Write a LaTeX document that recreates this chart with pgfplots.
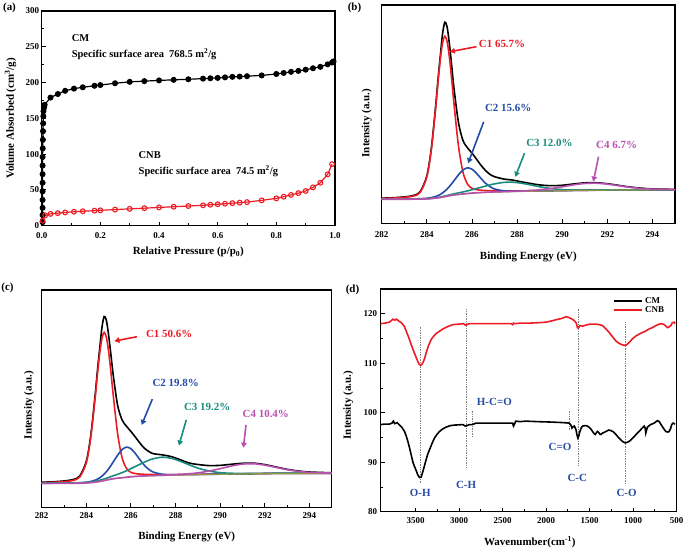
\documentclass[border=0pt]{standalone}
\usepackage{fontspec}
\setmainfont{Liberation Serif}
\usepackage{pgfplots}
\usepackage{pgfplotstable}
\pgfplotsset{compat=1.18}
\usetikzlibrary{arrows.meta}
\definecolor{cred}{RGB}{237,28,36}
\definecolor{cblue}{RGB}{35,75,170}
\definecolor{cteal}{RGB}{25,140,125}
\definecolor{cmag}{RGB}{185,80,175}
\definecolor{colive}{RGB}{150,150,70}
\definecolor{lblue}{RGB}{40,75,165}

\pgfplotstableread{
x bg red blue teal mag black
282.0 11.00 11.37 11.06 11.05 11.02 11.50
282.5 11.00 11.55 11.08 11.06 11.02 11.71
283.0 11.00 11.88 11.11 11.07 11.02 12.08
283.4 11.02 12.47 11.19 11.10 11.04 12.74
283.7 11.05 14.09 11.26 11.14 11.07 14.41
284.0 11.15 21.25 11.47 11.27 11.18 21.72
284.2 11.30 33.70 11.78 11.45 11.33 34.36
284.4 11.50 53.70 12.30 11.68 11.53 54.71
284.5 11.65 65.05 12.74 11.85 11.68 66.37
284.6 11.80 75.30 13.23 12.03 11.83 76.99
284.7 12.00 82.80 13.92 12.26 12.03 87.00
284.8 12.20 85.70 14.74 12.50 12.23 92.10
284.9 12.40 83.20 15.70 12.74 12.43 89.90
285.0 12.60 76.10 16.84 13.00 12.63 82.30
285.1 12.80 66.20 18.10 13.26 12.83 72.50
285.2 12.95 55.15 19.46 13.48 12.99 62.20
285.4 13.20 35.60 22.17 13.93 13.24 46.30
285.6 13.40 23.50 24.40 14.35 13.44 38.00
285.8 13.60 18.00 25.40 14.84 13.64 34.60
286.0 13.80 16.04 24.80 15.38 13.84 32.20
286.2 13.95 15.40 22.92 15.93 14.00 29.40
286.4 14.05 15.15 20.56 16.48 14.10 26.60
286.6 14.15 15.02 18.39 17.04 14.21 24.20
286.8 14.25 14.96 16.79 17.59 14.31 22.40
287.0 14.30 14.89 15.73 18.06 14.37 21.35
287.4 14.40 14.83 14.88 18.72 14.49 20.30
287.8 14.50 14.82 14.74 18.82 14.63 19.80
288.2 14.60 14.85 14.77 18.36 14.80 18.98
288.6 14.70 14.90 14.81 17.59 15.04 18.24
289.0 14.75 14.92 14.84 16.73 15.34 17.58
289.5 14.85 14.98 14.92 15.94 15.94 17.23
290.0 14.90 15.01 14.96 15.43 16.72 17.42
290.5 15.00 15.10 15.05 15.26 17.60 18.01
291.0 15.05 15.14 15.10 15.20 18.24 18.53
291.5 15.12 15.20 15.16 15.21 18.37 18.58
292.0 15.20 15.27 15.24 15.28 17.95 18.14
292.5 15.25 15.32 15.28 15.31 17.22 17.38
293.0 15.28 15.34 15.31 15.33 16.49 16.63
293.5 15.29 15.35 15.32 15.34 15.96 16.10
294.0 15.30 15.35 15.33 15.34 15.64 15.76
295.0 15.30 15.35 15.32 15.33 15.41 15.51
}\xpsb

\pgfplotstableread{
x bg red blue teal mag black
282.0 11.00 11.34 11.07 11.10 11.03 11.54
282.5 11.00 11.51 11.09 11.11 11.03 11.74
283.0 11.00 11.82 11.13 11.14 11.03 12.12
283.4 11.02 12.37 11.22 11.19 11.05 12.77
283.7 11.05 13.87 11.30 11.26 11.08 14.36
284.0 11.16 20.53 11.54 11.44 11.20 21.23
284.2 11.32 32.11 11.89 11.66 11.36 33.06
284.4 11.54 50.70 12.48 11.98 11.58 52.12
284.5 11.70 61.26 12.98 12.20 11.74 63.08
284.6 11.86 70.79 13.54 12.43 11.90 73.08
284.7 12.07 77.77 14.33 12.73 12.11 82.70
284.8 12.28 80.48 15.27 13.04 12.32 87.80
284.9 12.50 78.20 16.39 13.38 12.54 86.00
285.0 12.71 71.64 17.70 13.73 12.75 79.20
285.1 12.93 62.49 19.17 14.12 12.98 70.50
285.2 13.09 52.25 20.76 14.48 13.14 61.40
285.4 13.36 34.15 23.93 15.17 13.41 47.10
285.6 13.57 22.94 26.53 15.93 13.62 40.30
285.8 13.79 17.87 27.69 16.81 13.84 37.30
286.0 14.00 16.08 26.96 17.79 14.06 34.90
286.2 14.16 15.51 24.73 18.80 14.23 32.30
286.4 14.27 15.29 21.94 19.79 14.34 29.60
286.6 14.37 15.18 19.36 20.75 14.46 27.20
286.8 14.48 15.14 17.47 21.65 14.57 25.70
287.0 14.53 15.08 16.21 22.36 14.63 24.69
287.4 14.64 15.04 15.21 23.04 14.77 24.14
287.8 14.75 15.05 15.03 22.58 14.94 23.35
288.2 14.85 15.08 15.05 21.23 15.13 21.94
288.6 14.96 15.15 15.09 19.60 15.44 20.40
289.0 15.01 15.17 15.12 18.03 15.85 19.70
289.5 15.12 15.24 15.20 16.72 16.67 19.20
290.0 15.17 15.27 15.24 15.93 17.76 19.30
290.5 15.28 15.37 15.34 15.67 18.98 19.80
291.0 15.33 15.41 15.39 15.56 19.87 20.24
291.5 15.41 15.48 15.46 15.57 20.04 20.32
292.0 15.49 15.55 15.54 15.62 19.41 19.65
292.5 15.55 15.61 15.59 15.66 18.36 18.57
293.0 15.58 15.64 15.62 15.67 17.30 17.49
293.5 15.59 15.64 15.63 15.67 16.54 16.71
294.0 15.60 15.65 15.64 15.67 16.08 16.24
295.0 15.60 15.65 15.62 15.65 15.76 15.88
}\xpsc

\tikzset{
  arr/.style={line width=1.6pt, -{Triangle[length=5bp,width=5.5bp]}},
  ann/.style={font=\bfseries\fontsize{11}{12}\selectfont, anchor=west, inner sep=0pt},
  annS/.style={font=\bfseries\fontsize{10.5}{12}\selectfont, anchor=west, inner sep=0pt},
  ftl/.style={text=lblue, font=\bfseries\fontsize{11}{12}\selectfont},
  dl/.style={gray, densely dotted, line width=0.7pt},
}
\pgfplotsset{
  panel/.style={scale only axis, anchor=south west,
    axis line style={line width=1.1pt},
    tick style={black, line width=0.9pt},
    major tick length=4bp, minor tick length=2.5bp,
    tick label style={font=\bfseries\fontsize{9}{10}\selectfont},
    label style={font=\bfseries\fontsize{11}{12}\selectfont},
    /pgf/number format/assume math mode=true,
    /pgf/number format/1000 sep={},
    tick pos=left, tick align=inside},
  xps/.style={panel, xmin=282, xmax=295, ymin=0, ymax=100,
    xtick={282,284,...,294}, minor x tick num=1, ytick=\empty,
    xlabel={Binding Energy (eV)}, ylabel={Intensity (a.u.)}},
  xl/.style={line width=1.6pt, smooth},
}

\begin{document}
\begin{tikzpicture}
\path[use as bounding box] (0,0) rectangle (685bp,550bp);

% ---------------- (a)
\begin{axis}[panel, at={(41.7bp,324.3bp)}, width=293.3bp, height=214.7bp,
  xmin=0, xmax=1, ymin=0, ymax=300,
  xtick={0,0.2,...,1.0}, minor x tick num=1,
  ytick={0,50,...,300}, minor y tick num=1,
  xticklabel style={yshift=-3bp, /pgf/number format/fixed, /pgf/number format/fixed zerofill, /pgf/number format/precision=1},
  yticklabel style={xshift=1bp},
  xlabel={Relative Pressure (p/p\textsubscript{0})},
  ylabel={Volume Absorbed (cm\textsuperscript{3}/g)},
  xlabel style={at={(axis description cs:0.5,-0.122)}, anchor=center},
  ylabel style={at={(axis description cs:-0.106,0.5)}, anchor=center},
  clip=false]
\addplot[black, line width=1.2pt, mark=*, mark size=2.4pt] coordinates {
(0.003,5) (0.003,15) (0.003,25) (0.003,36) (0.003,48) (0.003,60) (0.003,72)
(0.003,84) (0.003,96) (0.0035,108) (0.004,120) (0.0045,132) (0.005,143) (0.0055,153)
(0.006,160) (0.008,165) (0.01,169) (0.03,179) (0.055,184) (0.08,188.5) (0.11,191.5)
(0.14,193.4) (0.18,195.5) (0.2,196.5) (0.25,199) (0.3,201) (0.35,202) (0.4,203)
(0.45,203.8) (0.5,204.6) (0.55,205.5) (0.575,206) (0.6,206.5) (0.625,207.3) (0.65,208)
(0.675,208.4) (0.7,208.9) (0.75,210) (0.8,212) (0.825,213.4) (0.85,215) (0.875,216.3)
(0.9,218) (0.925,220) (0.95,222) (0.975,225.5) (0.99,228) (0.995,229.5)};
\addplot[cred, line width=1.2pt, mark=o, mark size=2.4pt, mark options={line width=1.1pt, fill=white}] coordinates {
(0.003,7) (0.012,14.5) (0.03,16.5) (0.055,17.5) (0.08,18.5) (0.11,19.5) (0.14,20.2)
(0.18,21) (0.2,21.5) (0.25,22.5) (0.3,23.5) (0.35,24.5) (0.4,25.5) (0.45,26.5)
(0.5,27.5) (0.55,28.5) (0.575,29.3) (0.6,30) (0.625,30.7) (0.65,31.5) (0.675,32.2)
(0.7,33) (0.75,35.4) (0.8,38.2) (0.825,40.5) (0.85,43) (0.875,45.5) (0.9,48.5)
(0.925,53.6) (0.95,60) (0.975,71.8) (0.99,86)};
\node[annS] at (axis cs:0.102,262) {CM};
\node[annS] at (axis cs:0.102,239.5) {Specific surface area\ \ 768.5 m\textsuperscript{2}/g};
\node[annS] at (axis cs:0.33,98.8) {CNB};
\node[annS] at (axis cs:0.33,75.5) {Specific surface area\ \ 74.5 m\textsuperscript{2}/g};
\end{axis}

% ---------------- (b)
\begin{axis}[xps, at={(381.7bp,326.7bp)}, width=293.3bp, height=218.3bp,
  xticklabel style={yshift=-5bp},
  xlabel style={at={(axis description cs:0.5,-0.154)}, anchor=center},
  ylabel style={at={(axis description cs:-0.051,0.459)}, anchor=center}]
\addplot[xl, black] table[x=x, y=black] {\xpsb};
\addplot[xl, cred] table[x=x, y=red] {\xpsb};
\addplot[xl, cblue] table[x=x, y=blue] {\xpsb};
\addplot[xl, cteal] table[x=x, y=teal] {\xpsb};
\addplot[line width=1.2pt, colive, smooth] table[x=x, y=bg] {\xpsb};
\addplot[xl, cmag] table[x=x, y=mag] {\xpsb};
\draw[arr, cred] (axis cs:286.2,80.9) -- (axis cs:285.02,78.6);
\node[ann, text=cred] at (axis cs:286.3,82.1) {C1 65.7\%};
\draw[arr, cblue] (axis cs:286.52,46.5) -- (axis cs:285.83,27.5);
\node[ann, text=cblue] at (axis cs:286.57,52.7) {C2 15.6\%};
\draw[arr, cteal] (axis cs:288.33,32.1) -- (axis cs:287.92,21.3);
\node[ann, text=cteal] at (axis cs:288.4,36.9) {C3 12.0\%};
\draw[arr, cmag] (axis cs:291.61,30.5) -- (axis cs:291.38,19.1);
\node[ann, text=cmag] at (axis cs:291.5,35.9) {C4 6.7\%};
\end{axis}

% ---------------- (c)
\begin{axis}[xps, at={(41.7bp,42.7bp)}, width=290bp, height=217.3bp,
  xticklabel style={yshift=-2bp},
  xlabel style={at={(axis description cs:0.5,-0.137)}, anchor=center},
  ylabel style={at={(axis description cs:-0.044,0.471)}, anchor=center}]
\addplot[xl, black] table[x=x, y=black] {\xpsc};
\addplot[xl, cred] table[x=x, y=red] {\xpsc};
\addplot[xl, cblue] table[x=x, y=blue] {\xpsc};
\addplot[xl, cteal] table[x=x, y=teal] {\xpsc};
\addplot[line width=1.2pt, colive, smooth] table[x=x, y=bg] {\xpsc};
\addplot[xl, cmag] table[x=x, y=mag] {\xpsc};
\draw[arr, cred] (axis cs:286.27,78.5) -- (axis cs:285.26,76.5);
\node[ann, text=cred] at (axis cs:286.67,79.6) {C1 50.6\%};
\draw[arr, cblue] (axis cs:286.96,49.8) -- (axis cs:286.48,37.9);
\node[ann, text=cblue] at (axis cs:286.96,57.1) {C2 19.8\%};
\draw[arr, cteal] (axis cs:288.48,40.2) -- (axis cs:288.15,28.4);
\node[ann, text=cteal] at (axis cs:288.37,46.3) {C3 19.2\%};
\draw[arr, cmag] (axis cs:291.16,37.9) -- (axis cs:291.04,27.4);
\node[ann, text=cmag] at (axis cs:291.0,42.8) {C4 10.4\%};
\end{axis}

% ---------------- (d)
\begin{axis}[panel, at={(380.7bp,38.3bp)}, width=296bp, height=222.7bp,
  x dir=reverse, xmin=500, xmax=3900, ymin=80, ymax=125,
  xtick={500,1000,...,3500}, minor x tick num=1,
  ytick={80,90,...,120}, minor y tick num=1,
  xticklabel style={yshift=-2bp},
  xlabel={Wavenumber(cm\textsuperscript{-1})}, ylabel={Intensity (a.u.)},
  xlabel style={at={(axis description cs:0.504,-0.135)}, anchor=center},
  ylabel style={at={(axis description cs:-0.11,0.479)}, anchor=center},
  legend style={draw=none, fill=none, at={(0.968,0.978)}, anchor=north east,
    font=\bfseries\fontsize{9}{10}\selectfont, row sep=-2pt, inner sep=1pt},
  legend cell align=left,
  legend image code/.code={\draw[#1, line width=1.6pt] (0bp,0bp) -- (28bp,0bp);}]
\draw[dl] (axis cs:3443,117.4) -- (axis cs:3443,85.9);
\draw[dl] (axis cs:2916,120.9) -- (axis cs:2916,89.0);
\draw[dl] (axis cs:2851,100.4) -- (axis cs:2851,95.0);
\draw[dl] (axis cs:1734,100.4) -- (axis cs:1734,96.4);
\draw[dl] (axis cs:1627,121.0) -- (axis cs:1627,89.2);
\draw[dl] (axis cs:1086,118.3) -- (axis cs:1086,85.5);
\addplot[black, line width=1.6pt] coordinates {
(3905,97.6) (3850,97.7) (3800,97.7) (3770,97.9) (3755,98.3) (3740,97.8) (3710,98.0)
(3684,97.5) (3655,97.0) (3626,96.2) (3605,95.2) (3588,94.2) (3570,93.0) (3550,91.5)
(3530,90.0) (3511,89.1) (3490,88.2) (3473,87.4) (3454,86.9) (3435,87.0) (3416,88.1)
(3400,89.1) (3385,90.1) (3360,91.6) (3340,92.5) (3310,93.8) (3282,94.9) (3250,95.7)
(3225,96.2) (3190,96.7) (3148,97.1) (3100,97.4) (3053,97.5) (2957,97.6) (2927,97.3)
(2910,97.4) (2881,97.6) (2850,97.6) (2804,97.9) (2600,97.9) (2400,97.9) (2384,97.9)
(2375,97.3) (2365,97.6) (2350,98.3) (2300,98.2) (2231,98.3) (2100,98.2) (1925,98.1)
(1800,98.0) (1734,97.9) (1715,97.5) (1703,96.9) (1690,97.2) (1676,97.3) (1665,96.9)
(1657,96.6) (1645,95.5) (1635,94.9) (1625,95.3) (1612,96.2) (1595,97.0) (1581,97.3)
(1550,97.4) (1524,97.3) (1490,96.8) (1466,96.2) (1450,95.8) (1436,95.6) (1420,96.0)
(1409,96.2) (1395,96.0) (1385,95.7) (1371,95.6) (1350,95.9) (1313,96.2) (1280,96.5)
(1256,96.4) (1225,96.1) (1198,95.6) (1170,95.0) (1141,94.5) (1115,94.1) (1091,93.9)
(1070,94.0) (1046,94.2) (1015,94.7) (988,95.2) (950,95.9) (912,96.6) (874,97.3)
(862,96.9) (855,95.9) (846,96.5) (836,97.1) (800,97.6) (759,97.9) (721,98.4)
(700,98.2) (683,97.7) (650,96.8) (625,96.2) (600,96.1) (587,96.2) (570,96.8)
(557,97.6) (540,97.9) (518,97.7)};
\addlegendentry{CM}
\addplot[cred, line width=1.6pt] coordinates {
(3905,118.0) (3850,118.1) (3800,118.3) (3760,118.9) (3740,118.7) (3720,118.9) (3690,118.5)
(3664,118.2) (3630,117.5) (3607,116.5) (3580,115.3) (3550,113.8) (3525,112.6) (3500,111.5)
(3480,110.6) (3462,109.9) (3443,109.6) (3425,109.8) (3410,110.3) (3395,111.0) (3378,112.1)
(3350,113.6) (3320,114.8) (3290,115.5) (3263,116.0) (3230,116.4) (3187,116.9) (3130,117.4)
(3072,117.8) (3000,117.9) (2950,118.0) (2927,117.7) (2910,117.8) (2880,118.0) (2842,118.0)
(2700,118.0) (2500,118.0) (2400,118.0) (2384,117.8) (2375,118.1) (2360,118.0) (2300,118.1)
(2200,118.1) (2078,118.2) (2000,118.3) (1925,118.6) (1860,118.9) (1810,119.1) (1772,119.4)
(1750,119.3) (1734,119.2) (1700,118.9) (1676,118.6) (1660,118.3) (1650,117.9) (1640,117.2)
(1630,117.1) (1612,117.6) (1580,117.5) (1543,117.7) (1500,117.9) (1428,117.9) (1390,117.8)
(1352,117.6) (1310,116.9) (1275,116.2) (1240,115.4) (1198,114.5) (1160,114.0) (1122,113.7)
(1091,113.6) (1070,113.8) (1046,114.2) (1010,114.9) (969,115.5) (920,116.0) (855,116.5)
(820,116.9) (778,117.2) (740,117.6) (702,117.9) (670,118.0) (644,117.8) (625,117.5)
(606,117.2) (590,117.3) (568,117.6) (549,118.2) (530,118.3) (518,118.0)};
\addlegendentry{CNB}
\node[ftl] at (axis cs:3446,83.7) {O-H};
\node[ftl] at (axis cs:2919,85.5) {C-H};
\node[ftl] at (axis cs:2594,102.1) {H-C=O};
\node[ftl] at (axis cs:1841,93.0) {C=O};
\node[ftl] at (axis cs:1642,86.9) {C-C};
\node[ftl] at (axis cs:1076,83.7) {C-O};
\end{axis}

\node[font=\bfseries\fontsize{11}{12}\selectfont] at (9.5bp,542bp) {(a)};
\node[font=\bfseries\fontsize{11}{12}\selectfont] at (354.5bp,542.5bp) {(b)};
\node[font=\bfseries\fontsize{11}{12}\selectfont] at (7.5bp,262bp) {(c)};
\node[font=\bfseries\fontsize{11}{12}\selectfont] at (352.5bp,260.5bp) {(d)};
\end{tikzpicture}
\end{document}
